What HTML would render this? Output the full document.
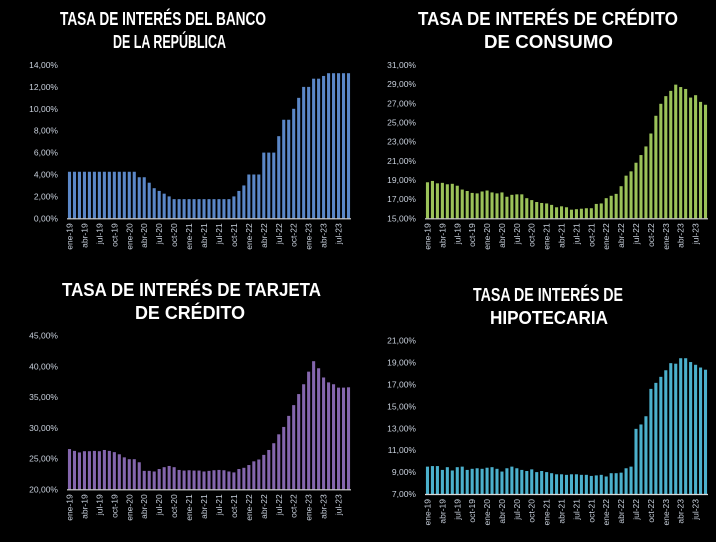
<!DOCTYPE html>
<html><head><meta charset="utf-8"><style>
html,body{margin:0;padding:0;background:#000;}
svg{display:block;font-family:"Liberation Sans",sans-serif;}
</style></head><body>
<svg id="c" width="716" height="542" viewBox="0 0 716 542" xmlns="http://www.w3.org/2000/svg">
<rect width="716" height="542" fill="#000"/>
<g font-weight="bold" fill="#fff" font-size="18">
<text x="60" y="25" textLength="206" lengthAdjust="spacingAndGlyphs">TASA DE INTERÉS DEL BANCO</text>
<text x="113" y="48" textLength="113" lengthAdjust="spacingAndGlyphs">DE LA REPÚBLICA</text>
<text x="418" y="25" textLength="260" lengthAdjust="spacingAndGlyphs">TASA DE INTERÉS DE CRÉDITO</text>
<text x="484" y="48" textLength="129" lengthAdjust="spacingAndGlyphs">DE CONSUMO</text>
<text x="62" y="296" textLength="259" lengthAdjust="spacingAndGlyphs">TASA DE INTERÉS DE  TARJETA</text>
<text x="135" y="319" textLength="110" lengthAdjust="spacingAndGlyphs">DE CRÉDITO</text>
<text x="473" y="301" textLength="150" lengthAdjust="spacingAndGlyphs">TASA DE INTERÉS DE</text>
<text x="490" y="324" textLength="118" lengthAdjust="spacingAndGlyphs">HIPOTECARIA</text>
</g>
</svg>
<script>
const months = ["ene-19","feb-19","mar-19","abr-19","may-19","jun-19","jul-19","ago-19","sep-19","oct-19","nov-19","dic-19",
"ene-20","feb-20","mar-20","abr-20","may-20","jun-20","jul-20","ago-20","sep-20","oct-20","nov-20","dic-20",
"ene-21","feb-21","mar-21","abr-21","may-21","jun-21","jul-21","ago-21","sep-21","oct-21","nov-21","dic-21",
"ene-22","feb-22","mar-22","abr-22","may-22","jun-22","jul-22","ago-22","sep-22","oct-22","nov-22","dic-22",
"ene-23","feb-23","mar-23","abr-23","may-23","jun-23","jul-23","ago-23","sep-23"];
const bancoValues = [4.25,4.25,4.25,4.25,4.25,4.25,4.25,4.25,4.25,4.25,4.25,4.25,4.25,4.25,3.75,3.75,3.25,2.75,2.5,2.25,2.0,
1.75,1.75,1.75,1.75,1.75,1.75,1.75,1.75,1.75,1.75,1.75,1.75,2.0,2.5,3.0,4.0,4.0,4.0,6.0,6.0,6.0,7.5,9.0,9.0,10.0,11.0,12.0,12.0,12.75,12.75,13.0,13.25,13.25,13.25,13.25,13.25];
const consumoValues = [18.76,18.9,18.65,18.7,18.55,18.6,18.4,18.0,17.85,17.65,17.6,17.8,17.9,17.7,17.6,17.7,17.25,17.45,17.5,17.5,17.1,16.9,16.7,16.6,16.55,16.4,16.15,16.25,16.15,15.9,15.95,16.0,16.05,16.05,16.5,16.55,17.1,17.35,17.55,18.35,19.45,19.9,20.8,21.6,22.5,23.85,25.7,26.95,27.75,28.3,28.95,28.7,28.5,27.6,27.85,27.15,26.85];
const tarjetaValues = [26.55,26.25,26.0,26.2,26.2,26.25,26.2,26.4,26.25,26.05,25.7,25.2,24.9,24.9,24.4,23.0,23.0,22.9,23.3,23.6,23.8,23.6,23.15,23.05,23.1,23.05,23.05,22.9,23.0,23.1,23.15,23.1,22.9,22.75,23.3,23.5,23.95,24.55,24.85,25.6,26.4,27.5,28.95,30.15,31.95,33.7,35.5,37.1,39.15,40.85,39.7,38.2,37.4,37.1,36.55,36.55,36.6];
const hipotecariaValues = [9.5,9.55,9.55,9.2,9.45,9.15,9.45,9.5,9.2,9.3,9.35,9.3,9.4,9.45,9.3,9.05,9.35,9.5,9.35,9.2,9.1,9.25,9.0,9.1,9.0,8.9,8.8,8.8,8.75,8.8,8.8,8.75,8.75,8.65,8.7,8.75,8.6,8.9,8.9,8.95,9.35,9.5,12.95,13.35,14.1,16.6,17.15,17.7,18.3,18.95,18.9,19.4,19.4,19.05,18.8,18.55,18.35];
const bancoTicks = [0,2,4,6,8,10,12,14];
const consumoTicks = [15,17,19,21,23,25,27,29,31];
const tarjetaTicks = [20,25,30,35,40,45];
const hipotecariaTicks = [7,9,11,13,15,17,19,21];

const NS = "http://www.w3.org/2000/svg";
const svg = document.getElementById("c");
function mk(tag, attrs, parent){const e=document.createElementNS(NS,tag);for(const k in attrs)e.setAttribute(k,attrs[k]);(parent||svg).appendChild(e);return e;}
function fmt(v){return v.toFixed(2).replace(".",",")+"%";}

function chart(key, vals, ticks, color, x0, x1, yBase, yTop){
  const g = mk("g",{});
  
  
  const vmin = ticks[0], vmax = ticks[ticks.length-1];
  const y = v => yBase - (v - vmin) / (vmax - vmin) * (yBase - yTop);
  const band = (x1 - x0) / months.length;
  const xc = i => x0 + band * (i + 0.5);
  ticks.forEach(t=>{
    const tx = mk("text",{x:x0-9,y:y(t)+3,"text-anchor":"end","font-size":"8.5",fill:"#c8d0dc"},g);
    
    
    tx.textContent = fmt(t);
  });
  vals.forEach((v,i)=>{
    const w = band*0.62;
    const r = mk("rect",{x:xc(i)-w/2,y:y(v),width:w,height:yBase-y(v),fill:color},g);
    
    
  });
  const ax = mk("line",{x1:x0,x2:x1,y1:yBase+0.5,y2:yBase+0.5,stroke:"#d9d9d9","stroke-width":"1.2"},g);
  
  
  months.forEach((m,i)=>{
    if(i%3!==0) return;
    const tx = mk("text",{x:0,y:0,"text-anchor":"end","font-size":"8.5",fill:"#c8d0dc",transform:`translate(${xc(i)+3},${yBase+5}) rotate(-90)`},g);
    
    
    tx.textContent = m;
  });
}
chart("banco", bancoValues, bancoTicks, "#5b87c7", 67, 351, 218.3, 65);
chart("consumo", consumoValues, consumoTicks, "#9bc259", 425, 708, 218.3, 65);
chart("tarjeta", tarjetaValues, tarjetaTicks, "#8466ad", 67, 351, 489.3, 335.7);
chart("hipotecaria", hipotecariaValues, hipotecariaTicks, "#4bb0cc", 425, 708, 494, 340.7);
</script>
</body></html>
